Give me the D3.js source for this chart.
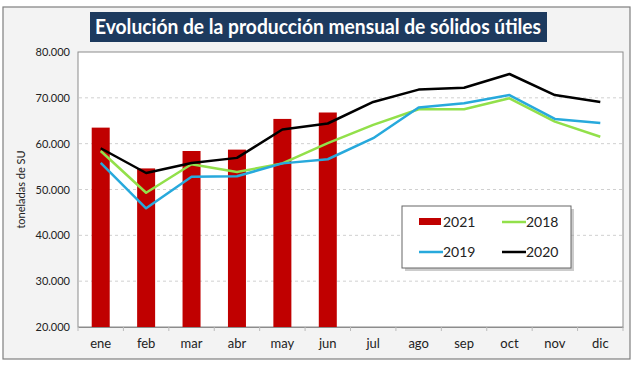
<!DOCTYPE html>
<html>
<head>
<meta charset="utf-8">
<script src="https://cdn.jsdelivr.net/npm/d3@7"></script>
<style>
  body { margin: 0; background: #fff; }
  text { font-family: Lato, "Open Sans", sans-serif; }
</style>
</head>
<body>
<div id="chart"></div>
<script>
// data
const months = ['ene', 'feb', 'mar', 'abr', 'may', 'jun', 'jul', 'ago', 'sep', 'oct', 'nov', 'dic'];
const prod2021 = [63500, 54600, 58400, 58700, 65400, 66800];
const prod2018 = [58400, 49300, 55500, 53800, 55700, 60100, 64100, 67500, 67500, 69900, 64800, 61500];
const prod2019 = [55800, 45900, 52800, 52900, 55700, 56600, 61200, 67900, 68800, 70600, 65400, 64500];
const prod2020 = [59000, 53600, 55800, 56900, 63100, 64400, 69100, 71800, 72200, 75200, 70600, 69100];
const yTicks = [20000, 30000, 40000, 50000, 60000, 70000, 80000];
const title = 'Evolución de la producción mensual de sólidos útiles';

const width = 640, height = 367;
const plot = { left: 78, right: 623, top: 52, bottom: 327 };

const svg = d3.select('#chart').append('svg')
    .attr('width', width)
    .attr('height', height);

// outer frame
svg.append('rect')
    .attr('x', 3).attr('y', 7)
    .attr('width', 627).attr('height', 352)
    .attr('fill', '#f3f3f3')
    .attr('stroke', '#7f7f7f').attr('stroke-width', 1.2);

// title box
svg.append('rect')
    .attr('x', 90).attr('y', 12)
    .attr('width', 457).attr('height', 30)
    .attr('fill', '#1d3a5e');
svg.append('text')
    .attr('x', 318).attr('y', 34)
    .attr('text-anchor', 'middle')
    .attr('fill', '#fff')
    .attr('font-size', 21)
    .attr('font-weight', 'bold')
    .attr('textLength', 446)
    .attr('lengthAdjust', 'spacingAndGlyphs')
    .text(title);

// scales
const x = d3.scaleBand().domain(months).range([plot.left, plot.right]);
const y = d3.scaleLinear().domain([20000, 80000]).range([plot.bottom, plot.top]);
const fmt = d => d3.format(',')(d).replace(/,/g, '.');

// plot area
svg.append('rect')
    .attr('x', plot.left).attr('y', plot.top)
    .attr('width', plot.right - plot.left).attr('height', plot.bottom - plot.top)
    .attr('fill', '#fff')
    .attr('stroke', '#8c8c8c').attr('stroke-width', 1);

// gridlines
svg.append('g').selectAll('line')
    .data(yTicks.filter(d => d > 20000 && d < 80000))
    .enter().append('line')
    .attr('x1', plot.left + 1).attr('x2', plot.right - 1)
    .attr('y1', d => y(d)).attr('y2', d => y(d))
    .attr('stroke', '#d0d0d0')
    .attr('stroke-dasharray', '3,3');

// y axis labels
svg.append('g').selectAll('text')
    .data(yTicks)
    .enter().append('text')
    .attr('x', 70).attr('y', d => y(d) + 4)
    .attr('text-anchor', 'end')
    .attr('font-size', 11)
    .attr('fill', '#222')
    .text(fmt);

svg.append('text')
    .attr('transform', 'translate(25,' + ((plot.top + plot.bottom) / 2) + ') rotate(-90)')
    .attr('text-anchor', 'middle')
    .attr('font-size', 11)
    .attr('fill', '#222')
    .text('toneladas de SU');

// x axis
const xAxis = svg.append('g')
    .attr('transform', 'translate(0,' + plot.bottom + ')')
    .call(d3.axisBottom(x).tickSize(0).tickPadding(12));
xAxis.select('.domain').attr('stroke', '#8c8c8c');
xAxis.selectAll('text')
    .attr('font-size', 13)
    .attr('fill', '#222')
    .style('font-family', 'Lato, sans-serif');
xAxis.selectAll('.boundary')
    .data(months.concat(['end']))
    .enter().append('line')
    .attr('class', 'boundary')
    .attr('x1', (d, i) => plot.left + i * x.step())
    .attr('x2', (d, i) => plot.left + i * x.step())
    .attr('y1', 0).attr('y2', 4)
    .attr('stroke', '#bbb');

// bars 2021
const barW = 18;
svg.append('g').selectAll('rect')
    .data(prod2021)
    .enter().append('rect')
    .attr('x', (d, i) => x(months[i]) + x.bandwidth() / 2 - barW / 2)
    .attr('y', d => y(d))
    .attr('width', barW)
    .attr('height', d => plot.bottom - y(d))
    .attr('fill', '#c00000');

// lines
const series = [
    { name: '2018', values: prod2018, color: '#92e04a' },
    { name: '2019', values: prod2019, color: '#27a9dc' },
    { name: '2020', values: prod2020, color: '#000' }
];
const line = d3.line()
    .x((d, i) => x(months[i]) + x.bandwidth() / 2)
    .y(d => y(d));
svg.append('g').selectAll('path')
    .data(series)
    .enter().append('path')
    .attr('d', d => line(d.values))
    .attr('fill', 'none')
    .attr('stroke', d => d.color)
    .attr('stroke-width', 2.5)
    .attr('stroke-linejoin', 'round');

// legend
const lg = svg.append('g').attr('transform', 'translate(402,206)');
lg.append('rect')
    .attr('x', 3).attr('y', 3).attr('width', 169).attr('height', 62)
    .attr('fill', '#999').attr('opacity', 0.5);
lg.append('rect')
    .attr('width', 169).attr('height', 62)
    .attr('fill', '#fff').attr('stroke', '#666');
const legendItems = [
    { name: '2021', color: '#c00000', bar: true, col: 0, row: 0 },
    { name: '2018', color: '#92e04a', col: 1, row: 0 },
    { name: '2019', color: '#27a9dc', col: 0, row: 1 },
    { name: '2020', color: '#000', col: 1, row: 1 }
];
const li = lg.selectAll('.item')
    .data(legendItems)
    .enter().append('g')
    .attr('transform', d => 'translate(' + (17 + d.col * 83) + ',' + (16 + d.row * 30) + ')');
li.filter(d => d.bar).append('rect')
    .attr('x', 0).attr('y', -4).attr('width', 22).attr('height', 7)
    .attr('fill', d => d.color);
li.filter(d => !d.bar).append('line')
    .attr('x1', 0).attr('x2', 24).attr('y1', 0).attr('y2', 0)
    .attr('stroke', d => d.color).attr('stroke-width', 2.5);
li.append('text')
    .attr('x', 24).attr('y', 5)
    .attr('font-size', 14)
    .attr('fill', '#222')
    .text(d => d.name);
</script>
</body>
</html>
